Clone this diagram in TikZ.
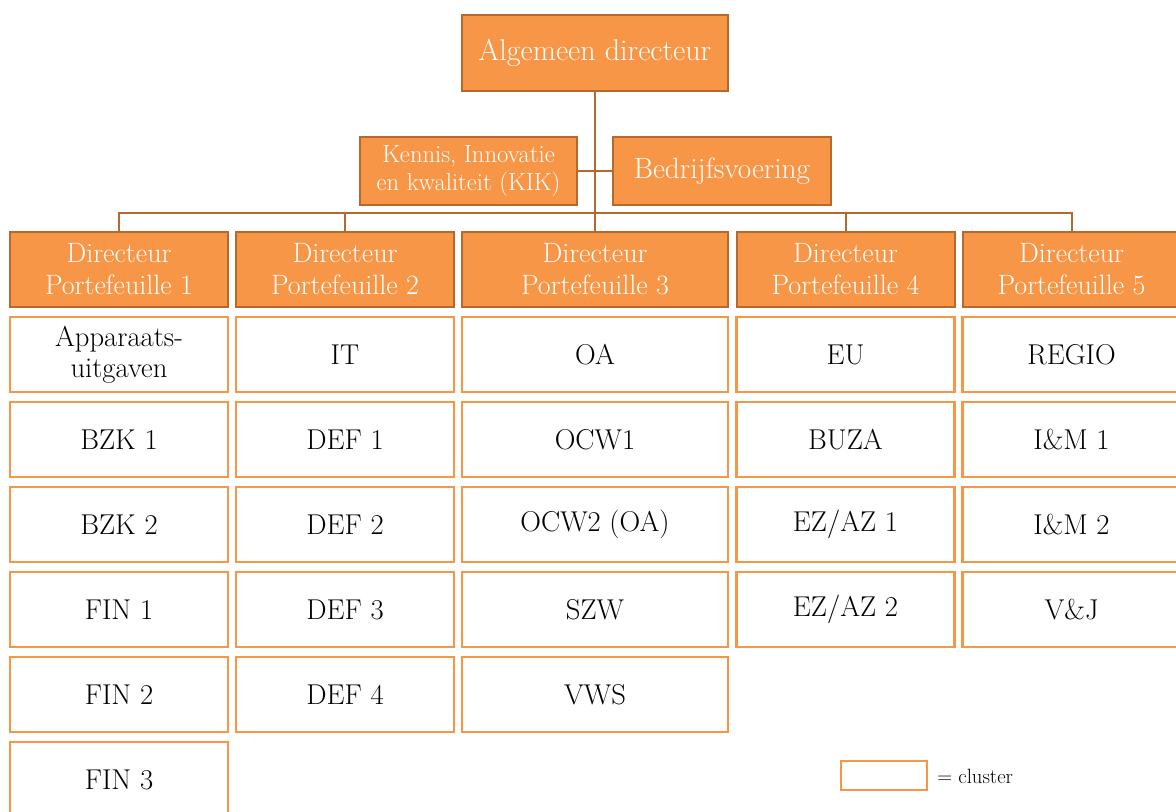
\documentclass[tikz,border=0pt]{standalone}
\usepackage{fontspec}
\usetikzlibrary{positioning}
\definecolor{orangefill}{HTML}{F79646}
\definecolor{orangeline}{HTML}{B5692F}
\tikzset{node distance=63.75pt, % distance between two rows of clusters
headbox/.style={ % orange boxes of the management
draw=orangeline,
line width=1.5pt,
fill=orangefill,
text=white,
inner sep=0pt,
align=center},
dirbox/.style={headbox,
minimum height=56.25pt,
font=\fontsize{21}{24}\selectfont},
cluster/.style={ % white boxes below the directors
draw=orangefill,
line width=2pt,
fill=white,
inner sep=0pt,
align=center,
minimum height=56.25pt,
font=\fontsize{21.5}{23}\selectfont},
narrow/.style={minimum width=163.5pt},
wide/.style={minimum width=199.5pt},
link/.style={draw=orangeline, line width=1.5pt}}

\begin{document}
\begin{tikzpicture}[x=0.75pt,y=-0.75pt,on grid]
  \useasboundingbox (0,0) rectangle (1176,811);
  \node[headbox,wide,minimum height=57pt,font=\fontsize{22.5}{26}\selectfont] (alg) at (595,53) {Algemeen directeur};
  \node[headbox,minimum width=162.75pt,minimum height=51pt,font=\fontsize{18.5}{20.5}\selectfont] (kik) at (468.5,171) {Kennis, Innovatie\\en kwaliteit (KIK)};
  \node[headbox,narrow,minimum height=51pt,font=\fontsize{22}{26}\selectfont] (bv) at (722,171) {Bedrijfsvoering};

  \node[dirbox,narrow] (dir1) at (119,269.5)    {Directeur\\Portefeuille 1};
  \node[dirbox,narrow] (dir2) at (345,269.5)    {Directeur\\Portefeuille 2};
  \node[dirbox,wide]   (dir3) at (595,269.5)    {Directeur\\Portefeuille 3};
  \node[dirbox,narrow] (dir4) at (845.5,269.5)  {Directeur\\Portefeuille 4};
  \node[dirbox,narrow] (dir5) at (1071.5,269.5) {Directeur\\Portefeuille 5};

  % portefeuille 1
  \node[cluster,narrow] (app)  [below=of dir1] {Apparaats-\\uitgaven};
  \node[cluster,narrow] (bzk1) [below=of app]  {BZK 1};
  \node[cluster,narrow] (bzk2) [below=of bzk1] {BZK 2};
  \node[cluster,narrow] (fin1) [below=of bzk2] {FIN 1};
  \node[cluster,narrow] (fin2) [below=of fin1] {FIN 2};
  \node[cluster,narrow] (fin3) [below=of fin2] {FIN 3};
  % portefeuille 2
  \node[cluster,narrow] (it)   [below=of dir2] {IT};
  \node[cluster,narrow] (def1) [below=of it]   {DEF 1};
  \node[cluster,narrow] (def2) [below=of def1] {DEF 2};
  \node[cluster,narrow] (def3) [below=of def2] {DEF 3};
  \node[cluster,narrow] (def4) [below=of def3] {DEF 4};
  % portefeuille 3
  \node[cluster,wide] (oa)   [below=of dir3] {OA};
  \node[cluster,wide] (ocw1) [below=of oa]   {OCW1};
  \node[cluster,wide] (ocw2) [below=of ocw1] {OCW2 (OA)};
  \node[cluster,wide] (szw)  [below=of ocw2] {SZW};
  \node[cluster,wide] (vws)  [below=of szw]  {VWS};
  % portefeuille 4
  \node[cluster,narrow] (eu)    [below=of dir4]  {EU};
  \node[cluster,narrow] (buza)  [below=of eu]    {BUZA};
  \node[cluster,narrow] (ezaz1) [below=of buza]  {EZ/AZ 1};
  \node[cluster,narrow] (ezaz2) [below=of ezaz1] {EZ/AZ 2};
  % portefeuille 5
  \node[cluster,narrow] (regio) [below=of dir5]  {REGIO};
  \node[cluster,narrow] (im1)   [below=of regio] {I\&M 1};
  \node[cluster,narrow] (im2)   [below=of im1]   {I\&M 2};
  \node[cluster,narrow] (vj)    [below=of im2]   {V\&J};

  % legend
  \node[cluster,minimum width=64.5pt,minimum height=21.75pt] (legend) at (884,775.5) {};
  \node[anchor=west,inner sep=0pt,font=\fontsize{15.5}{18}\selectfont] (legendtxt) at (937,776) {= cluster};

  \coordinate (bus) at (595,213);
  \draw[link] (alg) -- (dir3);
  \draw[link] (kik) -- (bv);
  \draw[link] (dir1.north) -- (dir1.north |- bus) -- (dir5.north |- bus) -- (dir5.north);
  \draw[link] (dir2.north) -- (dir2.north |- bus);
  \draw[link] (dir4.north) -- (dir4.north |- bus);
\end{tikzpicture}
\end{document}
